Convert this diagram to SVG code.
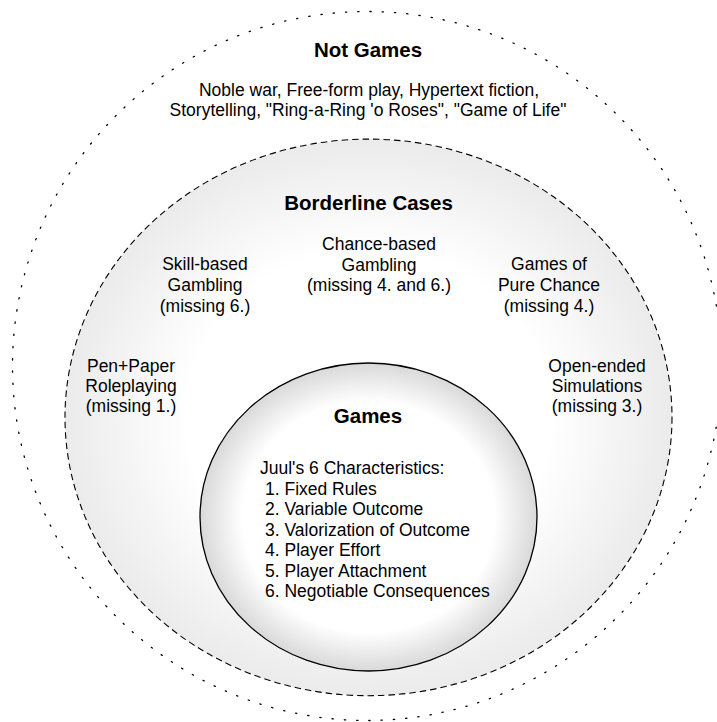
<svg xmlns="http://www.w3.org/2000/svg" width="717" height="722" viewBox="0 0 717 722">
<defs>
<radialGradient id="gBorder" cx="50%" cy="50%" r="50%">
<stop offset="0" stop-color="#ffffff"/>
<stop offset="0.6" stop-color="#ffffff"/>
<stop offset="1" stop-color="#ebebeb"/>
</radialGradient>
<radialGradient id="gGames" cx="50%" cy="50%" r="50%">
<stop offset="0" stop-color="#ffffff"/>
<stop offset="0.75" stop-color="#ffffff"/>
<stop offset="1" stop-color="#d9d9d9"/>
</radialGradient>
<style>
text{font-family:"Liberation Sans",Arial,Helvetica,sans-serif;fill:#000}
.t{font-size:17.5px;text-anchor:middle}
.h{font-size:20.5px;font-weight:bold;text-anchor:middle}
.l{font-size:17.5px}
</style>
</defs>
<rect width="717" height="722" fill="#ffffff"/>
<g id="not-games">
<circle cx="367" cy="366" r="354.5" fill="none" stroke="#000" stroke-width="1.3" stroke-dasharray="1.3,11" stroke-linecap="round"/>
<text class="h" x="368" y="57">Not Games</text>
<text class="t" x="369" y="96">Noble war, Free-form play, Hypertext fiction,</text>
<text class="t" x="368" y="116">Storytelling, "Ring-a-Ring 'o Roses", "Game of Life"</text>
</g>
<g id="borderline-cases">
<ellipse cx="368.5" cy="417.4" rx="303.5" ry="278.3" fill="url(#gBorder)" stroke="#000" stroke-width="1.1" stroke-dasharray="6.5,4"/>
<text class="h" x="368.5" y="210">Borderline Cases</text>
<text class="t" x="379" y="250">Chance-based</text>
<text class="t" x="379" y="270.5">Gambling</text>
<text class="t" x="379" y="291">(missing 4. and 6.)</text>
<text class="t" x="205" y="270">Skill-based</text>
<text class="t" x="205" y="291">Gambling</text>
<text class="t" x="205" y="311.5">(missing 6.)</text>
<text class="t" x="549" y="270">Games of</text>
<text class="t" x="549" y="291">Pure Chance</text>
<text class="t" x="549" y="311.5">(missing 4.)</text>
<text class="t" x="131" y="371.5">Pen+Paper</text>
<text class="t" x="131" y="392">Roleplaying</text>
<text class="t" x="131" y="412">(missing 1.)</text>
<text class="t" x="597" y="371.5">Open-ended</text>
<text class="t" x="597" y="392">Simulations</text>
<text class="t" x="597" y="412">(missing 3.)</text>
</g>
<g id="games">
<ellipse cx="368.5" cy="517" rx="168.5" ry="154" fill="url(#gGames)" stroke="#000" stroke-width="1.3"/>
<text class="h" x="368" y="423">Games</text>
<text class="l" x="260" y="474">Juul's 6 Characteristics:</text>
<text class="l" x="265" y="494.5">1. Fixed Rules</text>
<text class="l" x="265" y="515">2. Variable Outcome</text>
<text class="l" x="265" y="535.5">3. Valorization of Outcome</text>
<text class="l" x="265" y="556">4. Player Effort</text>
<text class="l" x="265" y="576.5">5. Player Attachment</text>
<text class="l" x="265" y="597">6. Negotiable Consequences</text>
</g>
<g id="connectors"></g>
</svg>
